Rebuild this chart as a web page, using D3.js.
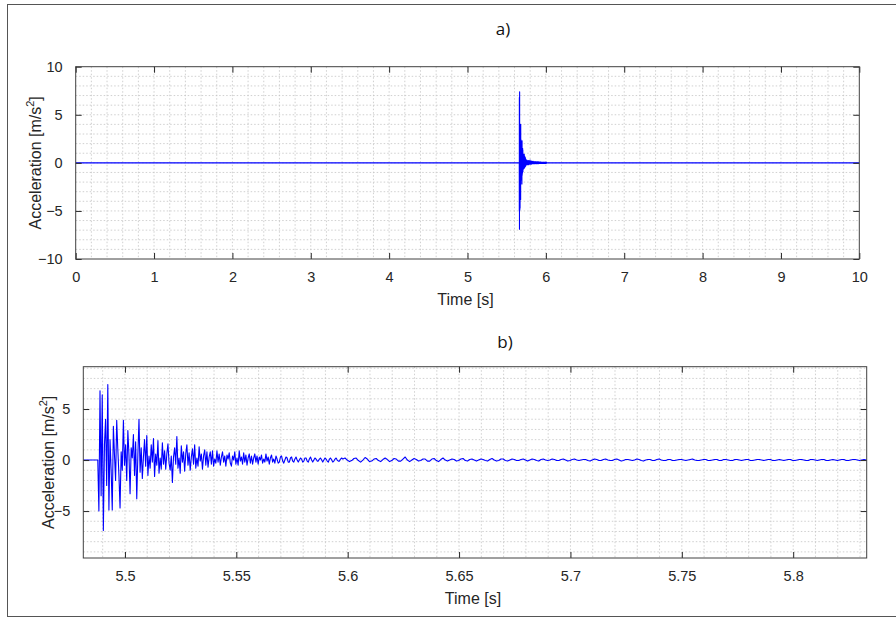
<!DOCTYPE html>
<html><head><meta charset="utf-8">
<script src="https://cdn.jsdelivr.net/npm/d3@7"></script>
<style>
html,body{margin:0;padding:0;background:#fff;}
svg{display:block;}
</style>
</head><body>
<svg id="chart" width="896" height="619"></svg>
<script>
// ---------------- data ----------------
const titles = ["a)", "b)"];
const xLabel = "Time [s]";
const yLabelMain = "Acceleration [m/s";
const yLabelSup = "2";
const yLabelEnd = "]";

const topXDomain = [0, 10];
const topYDomain = [-10, 10];
const topXTicks = [0, 1, 2, 3, 4, 5, 6, 7, 8, 9, 10];
const topYTicks = [-10, -5, 0, 5, 10];

const botXDomain = [5.4813, 5.833];
const botYDomain = [-9.6, 9.15];
const botXTicks = [5.5, 5.55, 5.6, 5.65, 5.7, 5.75, 5.8];
const botYTicks = [-5, 0, 5];

// impact burst, sampled every 0.5 ms from burstStart [m/s^2]
const burstStart = 5.4878;
const burstStep = 0.0005;
const burstValues = [
  0, -5.0, 6.8, -3.5, 6.4, -6.9, 1.5, 4.0, -2.5, 7.4, -4.9, 2.0, -1.0, -4.9, 3.3, 0.5, -2.0, 3.9, 1.0, -1.5,
  -4.7, 0.8, -1.0, 3.9, -0.5, 1.5, -2.0, 2.9, 0.5, -3.3, 1.2, 0.2, 2.5, -1.5, 1.8, -3.8, 0.5, 4.0, -1.2, 1.2,
  -1.8, 0.3, 2.0, -0.6, 2.4, -1.5, 0.4, -0.8, 1.5, -0.2, 2.1, -1.6, 0.6, -0.5, 1.9, -1.3, 0.2, -0.9, 1.7, -0.4,
  0.9, -0.9, 0.6, 1.6, -0.3, -1.0, 0.4, -2.2, 0.3, 1.2, -0.4, 2.3, -0.8, 0.2, -1.3, 1.4, -0.2, 0.8, -1.1, 0.6,
  1.5, -0.5, 0.7, -1.0, 0.3, 1.1, -0.4, 1.5, -0.8, 0.2, -0.6, 1.3, -0.1, 0.6, -0.9, 0.4, 1.0, -0.5, 0.8, -0.7,
  0.3, 0.8, -0.4, 0.9, -0.6, 0.1, -0.3, 0.9, -0.2, 0.6, -0.5, 0.3, 0.8, -0.2, 0.4, -0.6, 0.5, 0.1, 0.7, -0.3,
  -0.6, 0.4, 0.0, 0.8, -0.4, 0.2, -0.5, 0.9, -0.1, 0.3, -0.4, 0.7, -0.2, 0.5, -0.5, 0.2, 0.6, -0.3, 0.4, -0.4,
  0.2, 0.6, -0.2, 0.4, -0.4, 0.3, 0.0, 0.5, -0.3, 0.1, -0.2, 0.6, -0.1, 0.3, -0.4, 0.2, 0.5, -0.2, 0.1, -0.3,
  0.4, 0.1, -0.3, -0.2, 0.3, 0.4, -0.1, -0.3, 0.0, 0.3, 0.2, -0.2, -0.2, 0.2, 0.3, -0.1, -0.2, 0.1, 0.3, 0.0,
  -0.2, 0.0, 0.2, 0.1, -0.2, -0.1, 0.2, 0.2, -0.1, -0.2, 0.1, 0.3, 0.0, -0.2, 0.0, 0.2, 0.1, -0.1, -0.1, 0.1,
  0.2, 0.0, -0.2, 0.0, 0.2, 0.1, -0.1, -0.2, 0.1, 0.2, 0.0, -0.2, -0.1, 0.1, 0.2, 0.0, -0.1, -0.1, 0.1, 0.2
];

// residual vibration, sampled every 1 ms after the burst [m/s^2]
const tailStep = 0.001;
const tailValues = [
  0.10, 0.20, 0.00, -0.15, -0.05, 0.15, 0.20, -0.05, -0.20, 0.00, 0.25, 0.10, -0.15, -0.10, 0.10, 0.15, -0.05, -0.15, 0.05, 0.20,
  0.05, -0.15, -0.05, 0.15, 0.10, -0.10, -0.10, 0.10, 0.30, 0.00, -0.15, 0.00, 0.15, 0.05, -0.10, -0.05, 0.10, 0.10, -0.10, -0.10,
  0.10, 0.15, -0.05, -0.15, 0.05, 0.20, 0.00, -0.10, 0.00, 0.10, 0.05, -0.10, -0.05, 0.10, 0.15, -0.05, -0.10, 0.05, 0.10, 0.00,
  -0.10, 0.00, 0.10, 0.05, -0.05, -0.10, 0.05, 0.15, 0.00, -0.10, -0.05, 0.10, 0.10, -0.05, -0.10, 0.00, 0.10, 0.05, -0.05, -0.05,
  0.05, 0.10, 0.00, -0.10, 0.00, 0.10, 0.05, -0.05, -0.10, 0.05, 0.10, 0.00, -0.05, 0.00, 0.10, 0.05, -0.05, -0.05, 0.05, 0.10,
  0.00, -0.10, -0.05, 0.05, 0.10, 0.00, -0.05, 0.00, 0.05, 0.05, -0.05, -0.10, 0.00, 0.10, 0.05, -0.05, -0.05, 0.05, 0.10, 0.00,
  -0.05, -0.05, 0.05, 0.10, 0.00, -0.10, -0.05, 0.05, 0.05, 0.00, -0.05, 0.00, 0.10, 0.05, -0.05, -0.10, 0.00, 0.05, 0.05, -0.05,
  -0.05, 0.05, 0.10, 0.00, -0.05, -0.05, 0.05, 0.05, -0.05, -0.05, 0.00, 0.05, 0.05, 0.00, -0.05, 0.00, 0.05, 0.10, 0.00, -0.05,
  -0.05, 0.00, 0.05, 0.05, -0.05, -0.05, 0.00, 0.05, 0.05, -0.05, -0.05, 0.05, 0.05, 0.00, -0.05, -0.05, 0.05, 0.05, 0.00, -0.05,
  0.00, 0.05, 0.05, -0.05, -0.05, 0.00, 0.05, 0.05, 0.00, -0.05, 0.00, 0.05, 0.05, -0.05, -0.05, 0.00, 0.05, 0.00, -0.05, 0.00,
  0.05, 0.05, -0.05, -0.05, 0.00, 0.05, 0.05, 0.00, -0.05, -0.05, 0.05, 0.05, 0.00, -0.05, 0.00, 0.05, 0.05, -0.05, -0.05, 0.00,
  0.05, 0.00, -0.05, 0.00, 0.05, 0.05, -0.05, -0.05, 0.00, 0.05, 0.05, 0.00, -0.05, 0.00, 0.05, 0.00, -0.05, 0.00, 0.05, 0.00
];

// in panel a) the same event appears at a later time stamp
const topTimeOffset = 0.173;

// ---------------- build series ----------------
const eventSeries = [];
eventSeries.push([botXDomain[0], 0]);
burstValues.forEach((v, i) => eventSeries.push([burstStart + i * burstStep, v]));
const tailStart = burstStart + burstValues.length * burstStep;
tailValues.forEach((v, i) => eventSeries.push([tailStart + i * tailStep, v]));

const topSeries = [[topXDomain[0], 0]]
  .concat(eventSeries.map(d => [d[0] + topTimeOffset, d[1]]))
  .concat([[topXDomain[1], 0]]);

// ---------------- drawing ----------------
const svg = d3.select("#chart");
const FONT = "'Liberation Sans', Arial, Helvetica, sans-serif";
const AXC = "#262626";

svg.append("rect").attr("x", 7.5).attr("y", 4.5).attr("width", 900).attr("height", 612)
  .attr("fill", "none").attr("stroke", "#555").attr("stroke-width", 1);

function range(a, b, s) { const out = []; const n = Math.round((b - a) / s); for (let i = 0; i <= n; i++) out.push(+(a + i * s).toFixed(6)); return out; }

function panel(cfg) {
  const { L, R, T, B, xDom, yDom, xTicks, yTicks, xMinor, yMinor, data, title, titleX, titleY, yLabX, id, fmt } = cfg;
  const x = d3.scaleLinear().domain(xDom).range([L, R]);
  const y = d3.scaleLinear().domain(yDom).range([B, T]);
  const g = svg.append("g");

  // grid
  const grid = g.append("g").attr("stroke", "#c4c4c4").attr("stroke-width", 0.8).attr("stroke-dasharray", "1.5,2");
  xMinor.filter(v => v > xDom[0] && v < xDom[1]).forEach(v => {
    grid.append("line").attr("x1", x(v)).attr("x2", x(v)).attr("y1", T).attr("y2", B);
  });
  yMinor.filter(v => v > yDom[0] && v < yDom[1]).forEach(v => {
    grid.append("line").attr("y1", y(v)).attr("y2", y(v)).attr("x1", L).attr("x2", R);
  });

  // clip & data
  g.append("clipPath").attr("id", id).append("rect").attr("x", L).attr("y", T).attr("width", R - L).attr("height", B - T);
  const line = d3.line().x(d => x(d[0])).y(d => y(d[1]));
  g.append("path").datum(data).attr("clip-path", `url(#${id})`)
    .attr("d", line).attr("fill", "none").attr("stroke", "#0000ff").attr("stroke-width", 1.1)
    .attr("stroke-linejoin", "round");

  // axes (box with inward ticks)
  const tk = 6;
  const bottomAxis = d3.axisBottom(x).tickValues(xTicks).tickSizeInner(-tk).tickSizeOuter(0).tickPadding(13).tickFormat(fmt);
  const topAxis = d3.axisTop(x).tickValues(xTicks).tickSizeInner(-tk).tickSizeOuter(0).tickFormat("");
  const leftAxis = d3.axisLeft(y).tickValues(yTicks).tickSizeInner(-tk).tickSizeOuter(0).tickPadding(13).tickFormat(d3.format("d"));
  const rightAxis = d3.axisRight(y).tickValues(yTicks).tickSizeInner(-tk).tickSizeOuter(0).tickFormat("");
  const styleAx = sel => {
    sel.select(".domain").remove();
    sel.selectAll(".tick line").attr("stroke", AXC).attr("stroke-width", 1);
    sel.selectAll(".tick text").attr("fill", AXC).style("font-family", FONT).style("font-size", "14.5px");
  };
  g.append("g").attr("transform", `translate(0,${B})`).call(bottomAxis).call(styleAx);
  g.append("g").attr("transform", `translate(0,${T})`).call(topAxis).call(styleAx);
  g.append("g").attr("transform", `translate(${L},0)`).call(leftAxis).call(styleAx);
  g.append("g").attr("transform", `translate(${R},0)`).call(rightAxis).call(styleAx);
  g.append("rect").attr("x", L).attr("y", T).attr("width", R - L).attr("height", B - T)
    .attr("fill", "none").attr("stroke", "#404040").attr("stroke-width", 1);

  // labels
  g.append("text").attr("x", (L + R) / 2 - 2).attr("y", B + 46).attr("text-anchor", "middle")
    .style("font-family", FONT).style("font-size", "16px").attr("fill", AXC).text(xLabel);
  const yl = g.append("text").attr("transform", `translate(${yLabX},${(T + B) / 2}) rotate(-90)`)
    .attr("text-anchor", "middle").style("font-family", FONT).style("font-size", "16px").attr("fill", AXC);
  yl.append("tspan").text(yLabelMain);
  yl.append("tspan").attr("dy", -7).style("font-size", "11px").text(yLabelSup);
  yl.append("tspan").attr("dy", 7).text(yLabelEnd);

  g.append("text").attr("x", titleX).attr("y", titleY).attr("text-anchor", "middle")
    .style("font-family", "'Open Sans', 'Noto Sans', sans-serif").style("font-size", "17px").attr("fill", "#111").text(title);
}

panel({
  id: "clipTop", L: 75.7, R: 859.3, T: 66.7, B: 259,
  xDom: topXDomain, yDom: topYDomain, xTicks: topXTicks, yTicks: topYTicks,
  xMinor: range(0, 10, 0.2), yMinor: range(-10, 10, 1),
  data: topSeries, title: titles[0], titleX: 503, titleY: 34.5, yLabX: 41,
  fmt: d3.format("d")
});

panel({
  id: "clipBot", L: 83.3, R: 866.7, T: 366.7, B: 558,
  xDom: botXDomain, yDom: botYDomain, xTicks: botXTicks, yTicks: botYTicks,
  xMinor: range(5.49, 5.83, 0.01), yMinor: range(-9, 9, 1),
  data: eventSeries, title: titles[1], titleX: 505, titleY: 348, yLabX: 54,
  fmt: v => d3.format("")(+v.toFixed(2))
});
</script>
</body></html>
